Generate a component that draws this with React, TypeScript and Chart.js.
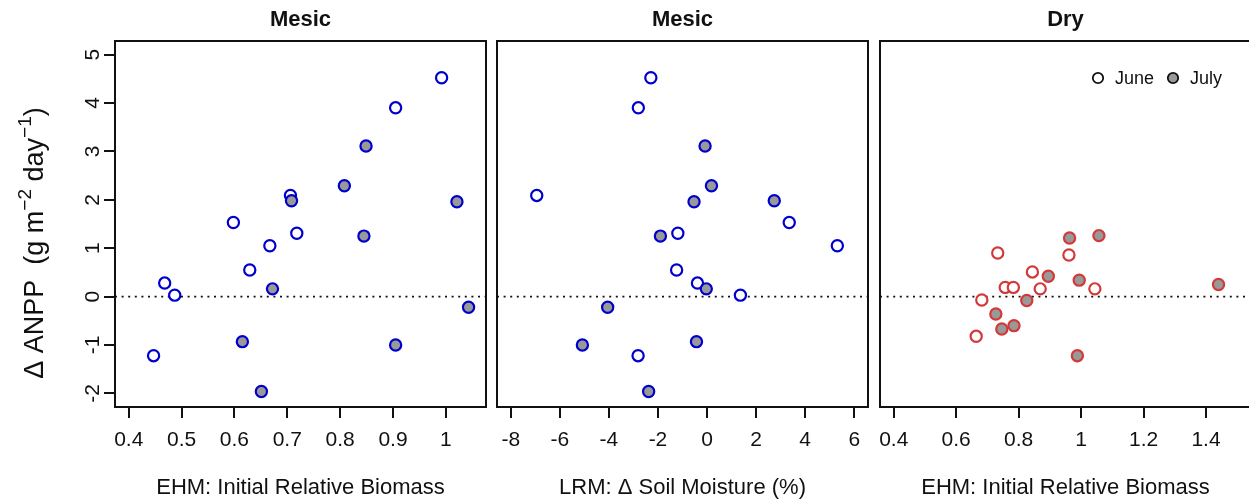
import { useEffect, useRef } from "react";
import { Chart, registerables } from "chart.js";

Chart.register(...registerables);

// ---- data -----------------------------------------------------------------
// Mesic plots: change in ANPP shared by the biomass and soil-moisture panels
const mesicJuneANPP = [4.52, 3.9, 2.09, 1.53, 1.31, 1.05, 0.55, 0.28, 0.03, -1.22];
const mesicJuneBiomass = [0.992, 0.905, 0.706, 0.598, 0.718, 0.667, 0.629, 0.468, 0.487, 0.447];
const mesicJuneMoisture = [-2.29, -2.8, -6.94, 3.35, -1.19, 5.31, -1.24, -0.39, 1.36, -2.81];

const mesicJulyANPP = [3.11, 2.29, 1.98, 1.96, 1.25, 0.16, -0.22, -0.93, -1.0, -1.96];
const mesicJulyBiomass = [0.849, 0.808, 0.708, 1.021, 0.845, 0.672, 1.043, 0.615, 0.905, 0.651];
const mesicJulyMoisture = [-0.08, 0.18, 2.74, -0.53, -1.9, -0.03, -4.05, -0.43, -5.08, -2.38];

// Dry plots
const dryJuneANPP = [0.9, 0.86, 0.51, 0.19, 0.19, 0.16, 0.16, -0.07, -0.82];
const dryJuneBiomass = [0.733, 0.961, 0.844, 0.757, 0.783, 0.869, 1.044, 0.682, 0.664];
const dryJulyANPP = [1.21, 1.26, 0.42, 0.34, 0.25, -0.08, -0.36, -0.67, -0.6, -1.22];
const dryJulyBiomass = [0.963, 1.057, 0.895, 0.994, 1.44, 0.826, 0.727, 0.746, 0.785, 0.988];

// axis limits (extended by 4% on each side, like base R graphics)
const yLimits = [-2, 5];
const yStep = 1;
const biomassLimitsMesic = [0.4, 1.05];
const biomassStepMesic = 0.1;
const moistureLimits = [-8, 6];
const moistureStep = 2;
const biomassLimitsDry = [0.4, 1.5];
const biomassStepDry = 0.2;
const referenceLine = 0;

const panelTitles = ["Mesic", "Mesic", "Dry"];
const xAxisTitles = [
  "EHM: Initial Relative Biomass",
  "LRM: \u0394 Soil Moisture (%)",
  "EHM: Initial Relative Biomass",
];
const legendLabels = ["June", "July"];

// ---- layout / style -------------------------------------------------------
const FONT = "'Liberation Sans', Arial, Helvetica, sans-serif";
const CANVAS_W = 1270;
const CANVAS_H = 501;
const PLOT_TOP = 41;
const X_AXIS_H = 94;
const Y_AXIS_W = 115;
const PLOT_SPANS = [
  [115, 486],
  [497, 868],
  [880, 1251],
];
const BLUE = "#0000cd";
const RED = "#d23a3a";
const GREY = "#999999";
const INK = "#111111";

const extend = ([a, b]: number[]) => {
  const d = (b - a) * 0.04;
  return [a - d, b + d];
};

const fmt = (v: number | string) => String(Math.round(Number(v) * 1000) / 1000);

const toPoints = (xs: number[], ys: number[]) => xs.map((x, i) => ({ x, y: ys[i] }));

type PanelSpec = {
  title: string;
  xTitle: string;
  xLimits: number[];
  xStep: number;
  color: string;
  june: { x: number; y: number }[];
  july: { x: number; y: number }[];
  span: number[];
  showY: boolean;
  legend: boolean;
};

const panels: PanelSpec[] = [
  {
    title: panelTitles[0],
    xTitle: xAxisTitles[0],
    xLimits: biomassLimitsMesic,
    xStep: biomassStepMesic,
    color: BLUE,
    june: toPoints(mesicJuneBiomass, mesicJuneANPP),
    july: toPoints(mesicJulyBiomass, mesicJulyANPP),
    span: PLOT_SPANS[0],
    showY: true,
    legend: false,
  },
  {
    title: panelTitles[1],
    xTitle: xAxisTitles[1],
    xLimits: moistureLimits,
    xStep: moistureStep,
    color: BLUE,
    june: toPoints(mesicJuneMoisture, mesicJuneANPP),
    july: toPoints(mesicJulyMoisture, mesicJulyANPP),
    span: PLOT_SPANS[1],
    showY: false,
    legend: false,
  },
  {
    title: panelTitles[2],
    xTitle: xAxisTitles[2],
    xLimits: biomassLimitsDry,
    xStep: biomassStepDry,
    color: RED,
    june: toPoints(dryJuneBiomass, dryJuneANPP),
    july: toPoints(dryJulyBiomass, dryJulyANPP),
    span: PLOT_SPANS[2],
    showY: false,
    legend: true,
  },
];

// rotated y-axis title with superscript units
function drawYTitle(ctx: CanvasRenderingContext2D, cx: number, cy: number) {
  const main = `27px ${FONT}`;
  const sup = `19px ${FONT}`;
  const parts = [
    { t: "\u0394 ANPP  (g m", f: main, dy: 0 },
    { t: "\u22122", f: sup, dy: -10 },
    { t: " day", f: main, dy: 0 },
    { t: "\u22121", f: sup, dy: -10 },
    { t: ")", f: main, dy: 0 },
  ];
  ctx.save();
  ctx.translate(cx, cy);
  ctx.rotate(-Math.PI / 2);
  ctx.fillStyle = INK;
  ctx.textBaseline = "middle";
  ctx.textAlign = "left";
  let total = 0;
  const widths = parts.map((p) => {
    ctx.font = p.f;
    const w = ctx.measureText(p.t).width;
    total += w;
    return w;
  });
  let x = -total / 2;
  parts.forEach((p, i) => {
    ctx.font = p.f;
    ctx.fillText(p.t, x, p.dy);
    x += widths[i];
  });
  ctx.restore();
}

function makeConfig(p: PanelSpec): any {
  const [xMin, xMax] = extend(p.xLimits);
  const [yMin, yMax] = extend(yLimits);

  const gridStyle = {
    drawOnChartArea: false,
    drawTicks: true,
    tickLength: 11,
    color: INK,
    tickColor: INK,
    lineWidth: 2,
    tickWidth: 2,
  };

  const decorations = {
    id: "panelDecorations",
    beforeDatasetsDraw(chart: any) {
      const { ctx, chartArea } = chart;
      const y = chart.scales.y.getPixelForValue(referenceLine);
      ctx.save();
      ctx.strokeStyle = INK;
      ctx.lineWidth = 1.6;
      ctx.setLineDash([2, 4.6]);
      ctx.beginPath();
      ctx.moveTo(chartArea.left, y);
      ctx.lineTo(chartArea.right, y);
      ctx.stroke();
      ctx.restore();
    },
    afterDraw(chart: any) {
      const { ctx, chartArea } = chart;
      ctx.save();
      // frame
      ctx.strokeStyle = INK;
      ctx.lineWidth = 2;
      ctx.strokeRect(
        chartArea.left,
        chartArea.top,
        chartArea.right - chartArea.left,
        chartArea.bottom - chartArea.top
      );
      // panel heading
      ctx.fillStyle = INK;
      ctx.font = `bold 22px ${FONT}`;
      ctx.textAlign = "center";
      ctx.textBaseline = "middle";
      ctx.fillText(p.title, (chartArea.left + chartArea.right) / 2, 20);

      if (p.showY) drawYTitle(ctx, 36, 243);

      if (p.legend) {
        const ly = 78;
        const items = [
          { x: chartArea.left + 218, fill: "#ffffff", label: legendLabels[0] },
          { x: chartArea.left + 293, fill: GREY, label: legendLabels[1] },
        ];
        ctx.font = `18px ${FONT}`;
        ctx.textAlign = "left";
        items.forEach((it) => {
          ctx.beginPath();
          ctx.arc(it.x, ly, 5.2, 0, Math.PI * 2);
          ctx.fillStyle = it.fill;
          ctx.fill();
          ctx.lineWidth = 1.8;
          ctx.strokeStyle = INK;
          ctx.stroke();
          ctx.fillStyle = INK;
          ctx.fillText(it.label, it.x + 17, ly + 1);
        });
      }
      ctx.restore();
    },
  };

  const pointStyle = (fill: string) => ({
    pointRadius: 5.6,
    pointHoverRadius: 5.6,
    pointBorderWidth: 2.2,
    borderWidth: 2.2,
    pointBackgroundColor: fill,
    backgroundColor: fill,
    pointBorderColor: p.color,
    borderColor: p.color,
  });

  return {
    type: "scatter",
    data: {
      datasets: [
        { label: legendLabels[1], data: p.july, order: 1, ...pointStyle(GREY) },
        { label: legendLabels[0], data: p.june, order: 2, ...pointStyle("#ffffff") },
      ],
    },
    options: {
      responsive: false,
      animation: false,
      devicePixelRatio: 1,
      events: [],
      layout: {
        padding: {
          left: p.showY ? p.span[0] - Y_AXIS_W : p.span[0],
          right: CANVAS_W - p.span[1],
          top: PLOT_TOP,
          bottom: 0,
        },
      },
      plugins: {
        legend: { display: false },
        tooltip: { enabled: false },
        title: { display: false },
      },
      scales: {
        x: {
          type: "linear",
          position: "bottom",
          min: xMin,
          max: xMax,
          afterFit: (s: any) => {
            s.height = X_AXIS_H;
          },
          grid: gridStyle,
          border: { display: false },
          ticks: {
            stepSize: p.xStep,
            includeBounds: false,
            autoSkip: false,
            minRotation: 0,
            maxRotation: 0,
            padding: 10,
            color: INK,
            font: { family: FONT, size: 21 },
            callback: (v: number) => fmt(v),
          },
          title: {
            display: true,
            text: p.xTitle,
            color: INK,
            font: { family: FONT, size: 22 },
            padding: { top: 0, bottom: 0 },
          },
        },
        y: p.showY
          ? {
              type: "linear",
              position: "left",
              min: yMin,
              max: yMax,
              afterFit: (s: any) => {
                s.width = Y_AXIS_W;
              },
              grid: gridStyle,
              border: { display: false },
              ticks: {
                stepSize: yStep,
                includeBounds: false,
                autoSkip: false,
                minRotation: 90,
                maxRotation: 90,
                crossAlign: "center",
                padding: 1,
                color: INK,
                font: { family: FONT, size: 21 },
                callback: (v: number) => fmt(v),
              },
            }
          : {
              type: "linear",
              display: false,
              min: yMin,
              max: yMax,
            },
      },
    },
    plugins: [decorations],
  };
}

function Panel({ spec }: { spec: PanelSpec }) {
  const ref = useRef<HTMLCanvasElement | null>(null);
  useEffect(() => {
    if (!ref.current) return;
    const chart = new Chart(ref.current, makeConfig(spec));
    return () => chart.destroy();
  }, [spec]);
  return (
    <canvas
      ref={ref}
      width={CANVAS_W}
      height={CANVAS_H}
      style={{ position: "absolute", left: 0, top: 0, width: CANVAS_W, height: CANVAS_H }}
    />
  );
}

export default function App() {
  return (
    <div
      style={{
        position: "fixed",
        left: 0,
        top: 0,
        width: 1249,
        height: 501,
        overflow: "hidden",
        background: "#ffffff",
      }}
    >
      {panels.map((p, i) => (
        <Panel key={i} spec={p} />
      ))}
    </div>
  );
}
